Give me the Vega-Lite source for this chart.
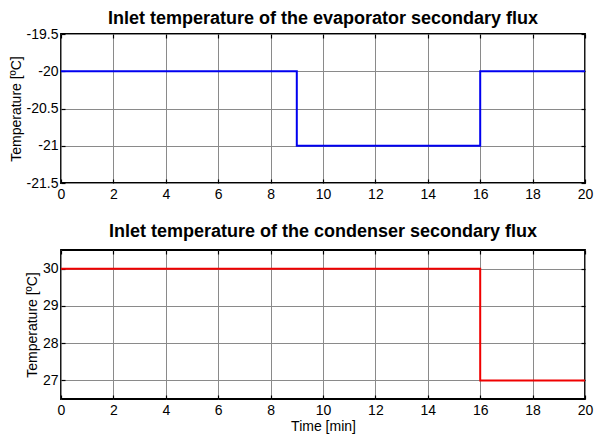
{
  "$schema": "https://vega.github.io/schema/vega-lite/v6.json",
  "background": "white",
  "padding": {"left": 8, "top": 9, "right": 8, "bottom": 8},
  "spacing": 67,
  "bounds": "flush",
  "config": {
    "font": "Liberation Sans",
    "view": {"stroke": "black", "strokeWidth": 1.8},
    "axis": {
      "grid": true, "gridColor": "#8a8a8a", "gridOpacity": 1, "gridWidth": 1,
      "domain": false, "ticks": true, "tickSize": -4, "tickColor": "black", "tickWidth": 1.2,
      "labelFontSize": 14, "labelColor": "black",
      "titleFontSize": 14, "titleFontWeight": "normal", "titleColor": "black",
      "labelFlush": false, "labelOverlap": false, "titlePadding": 3
    },
    "axisX": {"labelPadding": 8},
    "axisY": {"labelPadding": 7},
    "title": {"fontSize": 18, "fontWeight": "bold", "color": "black"}
  },
  "vconcat": [
    {
      "title": {"text": "Inlet temperature of the evaporator secondary flux", "offset": -1},
      "width": 524, "height": 149,
      "data": {"values": [
        {"time": 0, "temp": -20},
        {"time": 9, "temp": -21},
        {"time": 16, "temp": -20},
        {"time": 20, "temp": -20}
      ]},
      "layer": [
        {
          "mark": {"type": "line", "interpolate": "step-after", "opacity": 0},
          "encoding": {
            "x": {"field": "time", "type": "quantitative",
              "scale": {"domain": [0, 20], "nice": false},
              "axis": {"orient": "top", "values": [0, 2, 4, 6, 8, 10, 12, 14, 16, 18, 20], "title": null, "labels": false, "grid": false}},
            "y": {"field": "temp", "type": "quantitative",
              "scale": {"domain": [-21.5, -19.5], "nice": false, "zero": false},
              "axis": {"orient": "right", "values": [-21.5, -21, -20.5, -20, -19.5], "title": null, "labels": false, "grid": false}}
          }
        },
        {
          "mark": {"type": "line", "interpolate": "step-after", "color": "#0000f0", "strokeWidth": 2},
          "encoding": {
            "x": {"field": "time", "type": "quantitative",
              "scale": {"domain": [0, 20], "nice": false},
              "axis": {"values": [0, 2, 4, 6, 8, 10, 12, 14, 16, 18, 20], "title": null, "grid": true}},
            "y": {"field": "temp", "type": "quantitative",
              "scale": {"domain": [-21.5, -19.5], "nice": false, "zero": false},
              "axis": {"values": [-21.5, -21, -20.5, -20, -19.5], "title": "Temperature [ºC]", "grid": true,
                "labelExpr": "replace(format(datum.value, '~g'), '\u2212', '-')"}}
          }
        }
      ],
      "resolve": {"scale": {"x": "independent", "y": "independent"}}
    },
    {
      "title": {"text": "Inlet temperature of the condenser secondary flux", "offset": 8},
      "width": 524, "height": 149,
      "data": {"values": [
        {"time": 0, "temp": 30},
        {"time": 16, "temp": 27},
        {"time": 20, "temp": 27}
      ]},
      "layer": [
        {
          "mark": {"type": "line", "interpolate": "step-after", "opacity": 0},
          "encoding": {
            "x": {"field": "time", "type": "quantitative",
              "scale": {"domain": [0, 20], "nice": false},
              "axis": {"orient": "top", "values": [0, 2, 4, 6, 8, 10, 12, 14, 16, 18, 20], "title": null, "labels": false, "grid": false}},
            "y": {"field": "temp", "type": "quantitative",
              "scale": {"domain": [26.5, 30.5], "nice": false, "zero": false},
              "axis": {"orient": "right", "values": [27, 28, 29, 30], "title": null, "labels": false, "grid": false}}
          }
        },
        {
          "mark": {"type": "line", "interpolate": "step-after", "color": "#f00000", "strokeWidth": 2},
          "encoding": {
            "x": {"field": "time", "type": "quantitative",
              "scale": {"domain": [0, 20], "nice": false},
              "axis": {"values": [0, 2, 4, 6, 8, 10, 12, 14, 16, 18, 20], "title": "Time [min]", "titlePadding": 2, "grid": true}},
            "y": {"field": "temp", "type": "quantitative",
              "scale": {"domain": [26.5, 30.5], "nice": false, "zero": false},
              "axis": {"values": [27, 28, 29, 30], "title": "Temperature [ºC]", "grid": true,
                "labelExpr": "format(datum.value, '~g')"}}
          }
        }
      ],
      "resolve": {"scale": {"x": "independent", "y": "independent"}}
    }
  ]
}
